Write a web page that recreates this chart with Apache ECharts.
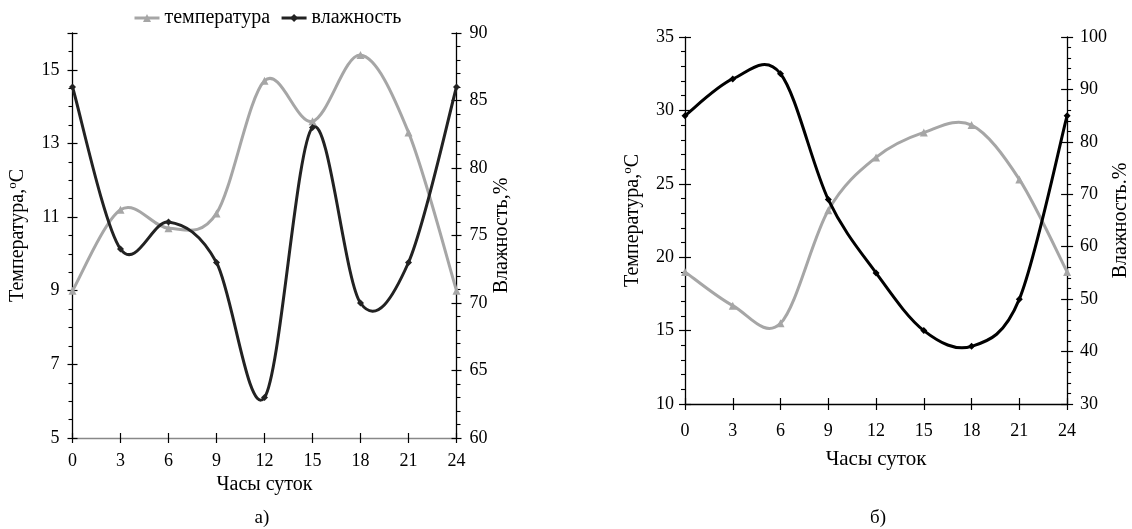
<!DOCTYPE html>
<html>
<head>
<meta charset="utf-8">
<script src="https://cdn.jsdelivr.net/npm/echarts@6/dist/echarts.min.js"></script>
<style>html,body{margin:0;padding:0;background:#fff}#c{width:1132px;height:529px}</style>
</head>
<body>
<div id="c"></div>
<script>
const hours = [0, 3, 6, 9, 12, 15, 18, 21, 24];
const tempA = [9.0, 11.2, 10.7, 11.1, 14.7, 13.6, 15.4, 13.3, 9.0];
const humA = [86, 74, 76, 73, 63, 83, 70, 73, 86];
const tempB = [19.0, 16.7, 15.5, 23.2, 26.8, 28.5, 29.0, 25.3, 19.0];
const humB = [85, 92, 93, 69, 55, 44, 41, 50, 85];
const seriesNames = ['температура', 'влажность'];
const xName = 'Часы суток';
const tempName = 'Температура,{s|o}С';
const humNameA = 'Влажность,%';
const humNameB = 'Влажность.%';
const panelLabels = ['а)', 'б)'];

const FF = '"Liberation Serif", "Times New Roman", serif';
const TS = 18;   // tick labels
const NS = 20;   // names
const GRAY = '#a6a6a6';

function pairs(xs, ys) { return xs.map((x, i) => [x, ys[i]]); }

function xAxes(gi, lineColor, tickLen, margin, nameGap, nameSize) {
  const base = {type: 'value', gridIndex: gi, min: 0, max: 24, interval: 3, position: 'bottom', splitLine: {show: false}};
  return [
    Object.assign({}, base, {
      name: xName, nameLocation: 'middle', nameGap: nameGap,
      nameTextStyle: {fontFamily: FF, fontSize: nameSize, color: '#000'},
      axisLine: {onZero: false, lineStyle: {color: lineColor, width: 1.3}},
      axisTick: {show: true, length: tickLen, lineStyle: {color: '#000', width: 1.2}},
      axisLabel: {margin: margin, fontFamily: FF, fontSize: TS, color: '#000'}
    }),
    Object.assign({}, base, {
      axisLine: {show: false, onZero: false},
      axisTick: {show: true, inside: true, length: tickLen, lineStyle: {color: '#000', width: 1.2}},
      axisLabel: {show: false}
    })
  ];
}

function yAxes(gi, pos, min, max, interval, minorSplit, name, nameGap, margin, tickLen) {
  const base = {type: 'value', gridIndex: gi, position: pos, min: min, max: max, interval: interval, splitLine: {show: false}};
  return [
    Object.assign({}, base, {
      name: name, nameLocation: 'middle', nameGap: nameGap, nameRotate: 90,
      nameTextStyle: {fontFamily: FF, fontSize: NS, color: '#000', rich: {s: {fontFamily: FF, fontSize: 13, color: '#000', padding: [0, 0, 10, 0]}}},
      axisLine: {onZero: false, lineStyle: {color: '#000', width: 1.3}},
      axisTick: {show: true, length: tickLen, lineStyle: {color: '#000', width: 1.2}},
      minorTick: {show: true, splitNumber: minorSplit, length: 4, lineStyle: {color: '#000', width: 1.1}},
      axisLabel: {margin: margin, fontFamily: FF, fontSize: TS, color: '#000', showMaxLabel: (max - min) % interval === 0}
    }),
    Object.assign({}, base, {
      axisLine: {show: false, onZero: false},
      axisTick: {show: true, inside: true, length: tickLen, lineStyle: {color: '#000', width: 1.2}},
      axisLabel: {show: false}
    })
  ];
}

// markers (and legend entries); line itself hidden, drawn by spline series below
function markerSeries(name, xi, yi, data, color, symbol, size) {
  return {
    type: 'line', name: name, xAxisIndex: xi, yAxisIndex: yi, data: data,
    symbol: symbol, symbolSize: size, showSymbol: true,
    lineStyle: {color: color, width: 3, opacity: 0}, itemStyle: {color: color},
    emphasis: {disabled: true}, animation: false, z: 4, silent: true
  };
}

// smooth spline (Catmull-Rom style, like office chart smoothing) through the data points
function splineSeries(id, xi, yi, data, color) {
  return {
    type: 'custom', name: id, xAxisIndex: xi, yAxisIndex: yi, data: data,
    encode: {x: 0, y: 1}, z: 3, silent: true, animation: false,
    renderItem: function (params, api) {
      const i = params.dataIndexInside;
      const n = params.dataInsideLength;
      if (i >= n - 1) return null;
      const P = function (k) {
        k = Math.max(0, Math.min(n - 1, k));
        return api.coord([api.value(0, k), api.value(1, k)]);
      };
      const p0 = P(i - 1), p1 = P(i), p2 = P(i + 1), p3 = P(i + 2);
      const t = 1 / 6;
      return {
        type: 'bezierCurve',
        shape: {
          x1: p1[0], y1: p1[1], x2: p2[0], y2: p2[1],
          cpx1: p1[0] + (p2[0] - p0[0]) * t, cpy1: p1[1] + (p2[1] - p0[1]) * t,
          cpx2: p2[0] - (p3[0] - p1[0]) * t, cpy2: p2[1] - (p3[1] - p1[1]) * t
        },
        style: {stroke: color, lineWidth: 3, fill: null, lineCap: 'round'}
      };
    }
  };
}

const option = {
  animation: false,
  backgroundColor: '#fff',
  legend: {
    top: 3, left: 128, itemGap: 10, itemWidth: 25, itemHeight: 10,
    textStyle: {fontFamily: FF, fontSize: NS, color: '#000'},
    data: [
      {name: seriesNames[0], lineStyle: {opacity: 1, width: 3, color: GRAY}},
      {name: seriesNames[1], lineStyle: {opacity: 1, width: 3, color: '#222'}}
    ]
  },
  grid: [
    {left: 72.5, right: 675.5, top: 33, bottom: 91},
    {left: 685, right: 56, top: 37, bottom: 125}
  ],
  xAxis: [].concat(
    xAxes(0, '#888', 5, 14, 34, NS),
    xAxes(1, '#000', 6, 18, 45, 21)
  ),
  yAxis: [].concat(
    yAxes(0, 'left', 5, 16, 2, 4, tempName, 43, 13, 5),
    yAxes(0, 'right', 60, 90, 5, 5, humNameA, 33, 13, 5),
    yAxes(1, 'left', 10, 35, 5, 5, tempName, 41, 11, 6),
    yAxes(1, 'right', 30, 100, 10, 5, humNameB, 38, 13, 6)
  ),
  series: [
    splineSeries('spline-tA', 0, 0, pairs(hours, tempA), GRAY),
    splineSeries('spline-hA', 0, 2, pairs(hours, humA), '#222'),
    splineSeries('spline-tB', 2, 4, pairs(hours, tempB), GRAY),
    splineSeries('spline-hB', 2, 6, pairs(hours, humB), '#000'),
    markerSeries(seriesNames[0], 0, 0, pairs(hours, tempA), GRAY, 'triangle', 8),
    markerSeries(seriesNames[1], 0, 2, pairs(hours, humA), '#222', 'diamond', 7),
    markerSeries(seriesNames[0], 2, 4, pairs(hours, tempB), GRAY, 'triangle', 8),
    markerSeries(seriesNames[1], 2, 6, pairs(hours, humB), '#000', 'diamond', 7)
  ],
  graphic: [
    {type: 'text', x: 262, y: 518, style: {text: panelLabels[0], font: '19px ' + FF, fill: '#000', align: 'center', verticalAlign: 'middle'}},
    {type: 'text', x: 878, y: 518, style: {text: panelLabels[1], font: '19px ' + FF, fill: '#000', align: 'center', verticalAlign: 'middle'}}
  ]
};

const chart = echarts.init(document.getElementById('c'), null, {renderer: 'canvas'});
chart.setOption(option);
</script>
</body>
</html>
